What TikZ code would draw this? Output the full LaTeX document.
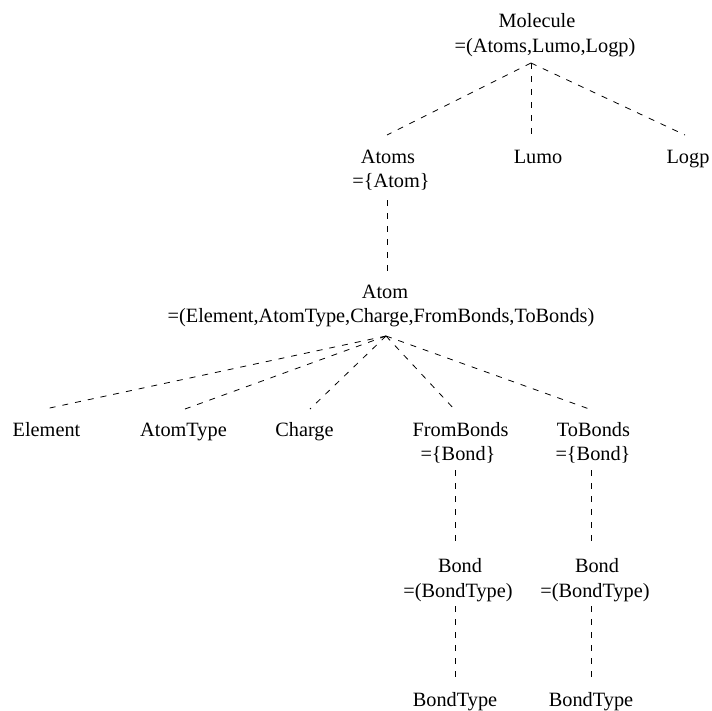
\documentclass[tikz,border=0pt]{standalone}
\usepackage{fontspec}
\setmainfont{Liberation Serif}
\begin{document}
\begin{tikzpicture}[x=1pt,y=-1pt,
  lbl/.style={anchor=base,inner sep=0pt,font=\fontsize{20.3}{24}\selectfont},
  link/.style={draw=black,line width=0.8pt,dash pattern=on 6pt off 7pt}]
\useasboundingbox[fill=white] (0,0) rectangle (712,710);
% text nodes
\node[lbl] (mol1) at (537,27) {Molecule};
\node[lbl] (mol2) at (545,52) {=(Atoms,Lumo,Logp)};
\node[lbl] (atoms1) at (388,163) {Atoms};
\node[lbl] (atoms2) at (391,187) {=\{Atom\}};
\node[lbl] (lumo) at (538,163) {Lumo};
\node[lbl] (logp) at (688,163) {Logp};
\node[lbl] (atom1) at (385,298) {Atom};
\node[lbl] (atom2) at (381,322) {=(Element,AtomType,Charge,FromBonds,ToBonds)};
\node[lbl] (element) at (46.5,436) {Element};
\node[lbl] (atomtype) at (183.5,436) {AtomType};
\node[lbl] (charge) at (304.5,436) {Charge};
\node[lbl] (from1) at (460.5,436) {FromBonds};
\node[lbl] (from2) at (458,460) {=\{Bond\}};
\node[lbl] (to1) at (593.5,436) {ToBonds};
\node[lbl] (to2) at (593,460) {=\{Bond\}};
\node[lbl] (bonda1) at (460,572) {Bond};
\node[lbl] (bonda2) at (458,597) {=(BondType)};
\node[lbl] (bondb1) at (597,572) {Bond};
\node[lbl] (bondb2) at (595,597) {=(BondType)};
\node[lbl] (btypea) at (455,706) {BondType};
\node[lbl] (btypeb) at (591,706) {BondType};
% connector end points
\coordinate (molhub) at (531,63);
\coordinate (atomsin) at (387,135);
\coordinate (lumoin) at (531,137);
\coordinate (logpin) at (685,135);
\coordinate (atomsout) at (387,200);
\coordinate (atomin) at (387,273);
\coordinate (atomhub) at (386,336);
\coordinate (elementin) at (45,409);
\coordinate (atomtypein) at (185,409);
\coordinate (chargein) at (310,409);
\coordinate (fromin) at (455,410);
\coordinate (toin) at (592,410);
\coordinate (fromout) at (455,470);
\coordinate (toout) at (591,470);
\coordinate (bondain) at (455,543);
\coordinate (bondbin) at (591,543);
\coordinate (bondaout) at (455,606);
\coordinate (bondbout) at (591,606);
\coordinate (btypeain) at (455,680);
\coordinate (btypebin) at (591,680);
% connectors
\draw[link] (molhub) -- (atomsin);
\draw[link] (molhub) -- (lumoin);
\draw[link] (molhub) -- (logpin);
\draw[link] (atomsout) -- (atomin);
\draw[link] (atomhub) -- (elementin);
\draw[link] (atomhub) -- (atomtypein);
\draw[link] (atomhub) -- (chargein);
\draw[link] (atomhub) -- (fromin);
\draw[link] (atomhub) -- (toin);
\draw[link] (fromout) -- (bondain);
\draw[link] (toout) -- (bondbin);
\draw[link] (bondaout) -- (btypeain);
\draw[link] (bondbout) -- (btypebin);
\end{tikzpicture}
\end{document}
